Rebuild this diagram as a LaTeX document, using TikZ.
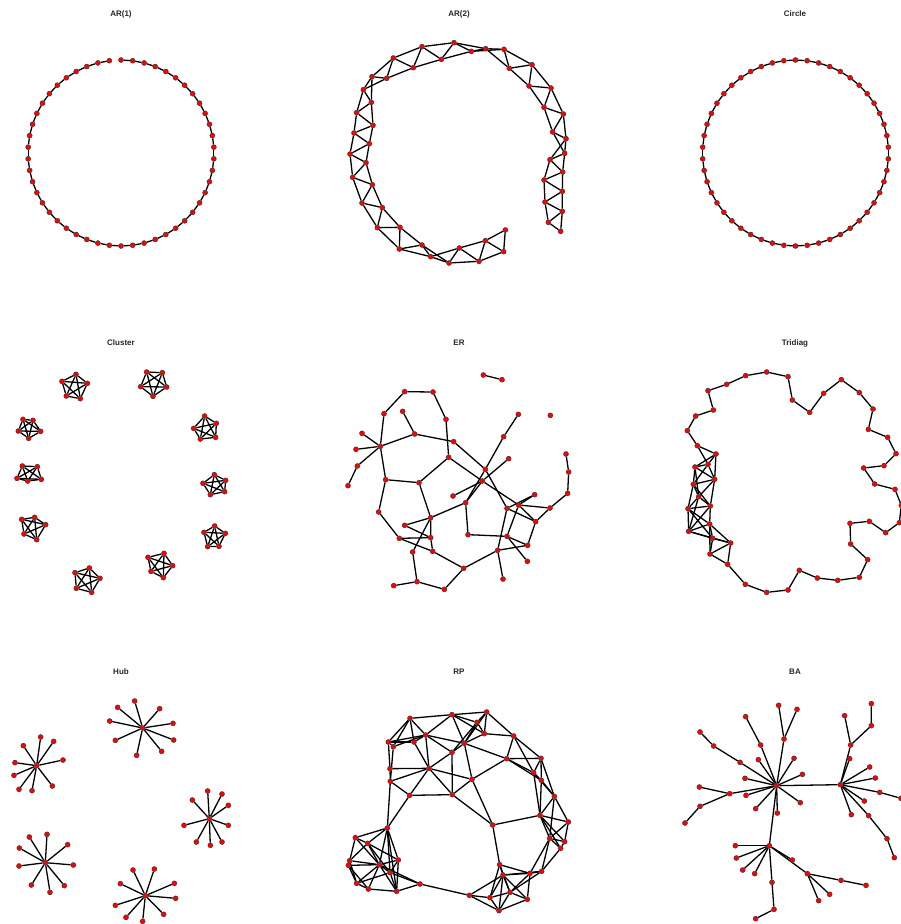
\documentclass[tikz,border=0pt]{standalone}
\usepackage{fontspec}
\setmainfont{Liberation Sans}
\usetikzlibrary{backgrounds}

\begin{document}
\begin{tikzpicture}[x=1pt, y=-1pt,
  vertex/.style={circle, draw=black!80, line width=0.45pt, fill=red, inner sep=0pt, minimum size=5pt},
  link/.style={line width=1.3pt, black},
  paneltitle/.style={font=\bfseries\fontsize{8}{9}\selectfont, text=black!85},
]
\useasboundingbox (0,0) rectangle (901,924);

% panel titles
\node[paneltitle] (t-ar1) at (121,14) {AR(1)};
\node[paneltitle] (t-ar2) at (459,14) {AR(2)};
\node[paneltitle] (t-circ) at (795,14) {Circle};
\node[paneltitle] (t-clus) at (121,343) {Cluster};
\node[paneltitle] (t-er) at (459,343) {ER};
\node[paneltitle] (t-tri) at (795,343) {Tridiag};
\node[paneltitle] (t-hub) at (121,672) {Hub};
\node[paneltitle] (t-rp) at (459,672) {RP};
\node[paneltitle] (t-ba) at (795,672) {BA};

% AR(1)
\foreach \k in {0,...,49}
  \node[vertex] (ar1-\k) at ({121+93*cos(90-7.2*\k)},{153-93*sin(90-7.2*\k)}) {};
\begin{pgfonlayer}{background}
\foreach \k [evaluate=\k as \n using int(\k+1)] in {0,...,48}
  \draw[link] (ar1-\k) -- (ar1-\n);
\end{pgfonlayer}

% Circle
\foreach \k in {0,...,49}
  \node[vertex] (circ-\k) at ({795.5+93*cos(90-7.2*\k)},{153-93*sin(90-7.2*\k)}) {};
\begin{pgfonlayer}{background}
\foreach \k [evaluate=\k as \n using {int(mod(\k+1,50))}] in {0,...,49}
  \draw[link] (circ-\k) -- (circ-\n);
\end{pgfonlayer}

% AR(2)
\begin{scope}[shift={(330,20)}, scale=1/3]
\foreach \n/\x/\y in {1/692/634, 2/655/607, 3/697/574, 4/645/546, 5/697/514,
    6/642/480, 7/698/456, 8/660/419, 9/704/400, 10/708/356, 11/668/336,
    12/700/282, 13/642/262, 14/663/204, 15/597/198, 16/606/134, 17/538/145,
    18/522/88, 19/467/86, 20/424/94, 21/372/68, 22/334/118, 23/276/80,
    24/250/143, 25/190/114, 26/170/175, 27/126/170, 28/100/209, 29/124/247,
    30/80/278, 31/129/316, 32/72/339, 33/118/371, 34/60/402, 35/108/428,
    36/68/472, 37/127/494, 38/96/549, 39/157/563, 40/142/623, 41/210/622,
    42/208/687, 43/276/675, 44/302/710, 45/357/729, 46/388/684, 47/447/724,
    48/466/662, 49/521/695, 50/526/630}
  \node[vertex] (ar2-\n) at (\x,\y) {};
\begin{pgfonlayer}{background}
\foreach \i [evaluate=\i as \j using int(\i+1)] in {1,...,49}
  \draw[link] (ar2-\i) -- (ar2-\j);
\foreach \i [evaluate=\i as \j using int(\i+2)] in {1,...,48}
  \draw[link] (ar2-\i) -- (ar2-\j);
\end{pgfonlayer}
\end{scope}

% Cluster
\begin{scope}[shift={(0,330)}, scale=1/3]
\foreach \c/\i/\x/\y in {
    1/1/228/133, 1/2/186/154, 1/3/262/160, 1/4/199/198, 1/5/241/206,
    2/1/440/126, 2/2/487/128, 2/3/422/170, 2/4/500/171, 2/5/459/199,
    3/1/69/268, 3/2/99/271, 3/3/55/303, 3/4/122/304, 3/5/86/325,
    4/1/614/258, 4/2/581/295, 4/3/649/280, 4/4/601/327, 4/5/647/322,
    5/1/67/408, 5/2/112/410, 5/3/51/445, 5/4/83/453, 5/5/124/448,
    6/1/643/434, 6/2/609/460, 6/3/677/451, 6/4/631/494, 6/5/674/485,
    7/1/65/568, 7/2/104/562, 7/3/137/584, 7/4/72/612, 7/5/110/629,
    8/1/644/588, 8/2/612/607, 8/3/676/610, 8/4/623/650, 8/5/657/649,
    9/1/492/670, 9/2/444/682, 9/3/518/707, 9/4/453/724, 9/5/490/743,
    10/1/268/714, 10/2/225/728, 10/3/300/745, 10/4/229/775, 10/5/275/787}
  \node[vertex] (cl-\c-\i) at (\x,\y) {};
\begin{pgfonlayer}{background}
\foreach \c in {1,...,10}
  \foreach \i in {1,...,4} {
    \pgfmathtruncatemacro\ni{\i+1}
    \foreach \j in {\ni,...,5}
      \draw[link] (cl-\c-\i) -- (cl-\c-\j);
  }
\end{pgfonlayer}
\end{scope}

% ER
\begin{scope}[shift={(330,360)}, scale=1/3]
\foreach \n/\x/\y in {1/460/45, 2/516/59, 3/224/95, 4/309/96, 5/162/161,
    6/218/154, 7/348/178, 8/565/163, 9/661/166, 10/96/220, 11/254/222,
    12/371/245, 13/521/230, 14/78/268, 15/151/259, 16/708/282, 17/536/296,
    18/356/292, 19/82/318, 20/466/328, 21/716/336, 22/54/377, 23/167/359,
    24/267/368, 25/457/363, 26/713/400, 27/614/404, 28/369/408, 29/407/428,
    30/146/456, 31/531/445, 32/566/435, 33/660/444, 34/224/496, 35/302/473,
    36/617/485, 37/208/535, 38/302/533, 39/414/524, 40/531/529, 41/593/556,
    42/248/576, 43/308/574, 44/503/571, 45/592/604, 46/401/625, 47/519/657,
    48/191/677, 49/261/665, 50/343/688}
  \node[vertex] (er-\n) at (\x,\y) {};
\begin{pgfonlayer}{background}
\foreach \a/\b in {1/2, 3/4, 3/5, 4/7, 5/15, 6/11, 11/15, 11/12, 12/20, 7/18,
    10/15, 14/15, 15/19, 19/22, 15/23, 8/13, 13/20, 16/21, 21/26, 26/33,
    17/25, 18/24, 18/25, 23/24, 23/30, 30/37, 24/35, 37/43, 43/46, 46/44,
    44/47, 44/41, 42/35, 42/49, 49/48, 49/50, 50/46, 31/44, 40/45, 40/32,
    39/40, 36/41, 33/36, 32/33, 31/36, 32/36, 27/32, 27/31, 20/31, 25/32,
    29/20, 29/25, 28/25, 35/29, 29/39, 35/38, 35/34, 34/38, 37/38, 38/43,
    40/41}
  \draw[link] (er-\a) -- (er-\b);
\end{pgfonlayer}
\end{scope}

% Tridiag
\begin{scope}[shift={(660,350)}, scale=1/3]
\foreach \n/\x/\y in {1/82/242, 2/107/198, 3/160/180, 4/144/122, 5/200/103,
    6/257/77, 7/320/66, 8/384/80, 9/397/150, 10/449/187, 11/491/130,
    12/544/89, 13/598/128, 14/639/177, 15/625/238, 16/683/262, 17/708/311,
    18/672/347, 19/611/354, 20/644/402, 21/705/418, 22/724/466, 23/718/518,
    24/677/548, 25/628/514, 26/570/520, 27/572/582, 28/623/629, 29/598/682,
    30/533/691, 31/472/684, 32/418/661, 33/384/720, 34/320/727, 35/256/703,
    36/203/643, 37/150/612, 38/212/579, 39/158/565, 40/149/522, 41/86/544,
    42/84/476, 43/151/468, 44/116/440, 45/100/403, 46/164/388, 47/105/351,
    48/144/343, 49/168/312, 50/112/287}
  \node[vertex] (tri-\n) at (\x,\y) {};
\begin{pgfonlayer}{background}
\foreach \i [evaluate=\i as \j using {int(mod(\i,50)+1)}] in {1,...,50}
  \draw[link] (tri-\i) -- (tri-\j);
\foreach \i [evaluate=\i as \j using int(\i+2)] in {36,...,48}
  \draw[link] (tri-\i) -- (tri-\j);
\foreach \i [evaluate=\i as \j using int(\i+3)] in {37,...,46}
  \draw[link] (tri-\i) -- (tri-\j);
\end{pgfonlayer}
\end{scope}

% Hub
\begin{scope}[shift={(0,680)}, scale=1/3]
\foreach \h/\x/\y in {1/428/144, 2/110/257, 3/628/416, 4/136/548, 5/436/647}
  \node[vertex] (hub-\h) at (\x,\y) {};
\foreach \h/\l/\x/\y in {
    1/1/404/63, 1/2/353/82, 1/3/479/86, 1/4/329/123, 1/5/519/130,
    1/6/346/181, 1/7/521/180, 1/8/485/214, 1/9/410/226,
    2/1/122/171, 2/2/70/197, 2/3/161/184, 2/4/45/248, 2/5/189/240,
    2/6/42/286, 2/7/57/328, 2/8/96/332, 2/9/157/318,
    3/1/623/333, 3/2/577/360, 3/3/666/342, 3/4/685/376, 3/5/552/436,
    3/6/685/436, 3/7/589/486, 3/8/631/496, 3/9/666/486,
    4/1/141/463, 4/2/88/471, 4/3/58/504, 4/4/203/494, 4/5/57/558,
    4/6/220/555, 4/7/94/615, 4/8/150/637, 4/9/193/617,
    5/1/399/570, 5/2/463/567, 5/3/361/611, 5/4/523/610, 5/5/527/655,
    5/6/346/676, 5/7/378/712, 5/8/428/724, 5/9/491/703}
  \node[vertex] (hub-\h-\l) at (\x,\y) {};
\begin{pgfonlayer}{background}
\foreach \h in {1,...,5}
  \foreach \l in {1,...,9}
    \draw[link] (hub-\h) -- (hub-\h-\l);
\end{pgfonlayer}
\end{scope}

% RP
\begin{scope}[shift={(330,690)}, scale=1/3]
\foreach \n/\x/\y in {1/240/85, 2/366/74, 3/470/66, 4/441/97, 5/463/131,
    6/287/135, 7/175/156, 8/190/170, 9/252/156, 10/403/160, 11/366/187,
    12/551/138, 13/530/206, 14/633/205, 15/180/236, 16/297/235, 17/611/248,
    18/634/271, 19/181/274, 20/426/268, 21/239/316, 22/367/314, 23/673/319,
    24/630/376, 25/488/405, 26/715/396, 27/172/414, 28/76/443, 29/113/460,
    30/659/445, 31/704/455, 32/692/475, 33/59/512, 34/205/510, 35/148/524,
    36/55/526, 37/180/548, 38/509/524, 39/600/550, 40/635/544, 41/519/555,
    42/80/580, 43/115/597, 44/270/582, 45/200/604, 46/418/616, 47/480/623,
    48/540/607, 49/592/628, 50/507/662}
  \node[vertex] (rp-\n) at (\x,\y) {};
\begin{pgfonlayer}{background}
\foreach \a/\b in {1/2, 2/3, 1/7, 1/8, 1/9, 1/6, 2/6, 2/10, 2/4, 2/5, 3/4,
    3/5, 4/5, 3/10, 3/12, 4/10, 4/11, 5/12, 5/10, 6/7, 6/9, 6/10, 6/16, 6/11,
    7/9, 6/8, 7/8, 7/15, 8/19, 9/16, 10/11, 10/20, 10/13, 11/16, 11/22,
    12/13, 12/14, 12/17, 13/14, 13/17, 13/18, 13/20, 14/17, 14/18, 14/23,
    15/16, 15/19, 16/19, 16/20, 16/21, 16/22, 19/21, 21/22, 20/22, 17/18,
    17/23, 18/23, 19/27, 21/27, 22/25, 20/25,
    18/24, 17/24, 23/24, 23/26, 24/25, 24/26, 24/30, 24/31, 24/32, 26/30,
    26/31, 30/31, 30/32, 31/32, 23/30, 30/39, 30/40, 32/40, 25/38, 38/39,
    38/41, 41/39, 41/40, 39/40, 41/47, 41/48, 41/50, 41/49, 39/48, 39/49,
    40/48, 47/48, 48/49, 48/50, 47/50, 49/50, 38/47, 38/48, 46/47, 46/50,
    46/41, 44/46,
    27/28, 27/29, 27/35, 27/37, 27/34, 27/45, 28/29, 28/33, 28/35, 29/33,
    29/35, 29/34, 29/37, 33/36, 33/35, 36/35, 36/42, 36/43, 33/42, 35/42,
    35/43, 35/37, 35/45, 35/34, 35/44, 37/34, 37/44, 37/45, 37/42, 34/45,
    43/42, 43/45, 45/44}
  \draw[link] (rp-\a) -- (rp-\b);
\end{pgfonlayer}
\end{scope}

% BA
\begin{scope}[shift={(660,690)}, scale=1/3]
\foreach \n/\x/\y in {1/350/287, 2/541/284, 3/328/467,
    4/356/46, 5/411/58, 6/372/147, 7/257/80, 8/302/165, 9/120/126,
    10/161/168, 11/240/217, 12/295/209, 13/402/205, 14/427/253, 15/255/265,
    16/118/291, 17/209/311, 18/120/349, 19/75/399, 20/258/316, 21/287/356,
    22/352/369, 23/421/338,
    24/634/41, 25/634/107, 26/572/165, 27/554/77, 28/569/206, 29/629/231,
    30/646/264, 31/659/307, 32/723/325, 33/613/333, 34/574/374, 35/626/377,
    36/681/446, 37/703/503,
    38/226/467, 39/229/504, 40/248/540, 41/284/551, 42/336/577, 43/342/658,
    44/287/686, 45/397/510, 46/442/551, 47/543/571, 48/618/586, 49/476/632,
    50/509/613}
  \node[vertex] (ba-\n) at (\x,\y) {};
\begin{pgfonlayer}{background}
\foreach \a/\b in {1/2, 1/3, 6/1, 4/6, 5/6, 7/8, 8/1, 9/10, 10/11, 11/1,
    12/1, 13/1, 14/1, 15/1, 16/17, 17/1, 18/17, 19/18, 20/1, 21/1, 22/1, 23/1,
    24/25, 25/26, 27/26, 26/2, 28/2, 29/2, 30/2, 31/2, 32/31, 33/2, 34/2,
    35/2, 36/35, 37/36,
    38/3, 39/3, 40/3, 41/3, 42/3, 43/42, 44/43, 45/3, 46/3, 47/46, 48/47,
    49/46, 50/46}
  \draw[link] (ba-\a) -- (ba-\b);
\end{pgfonlayer}
\end{scope}
\end{tikzpicture}
\end{document}
